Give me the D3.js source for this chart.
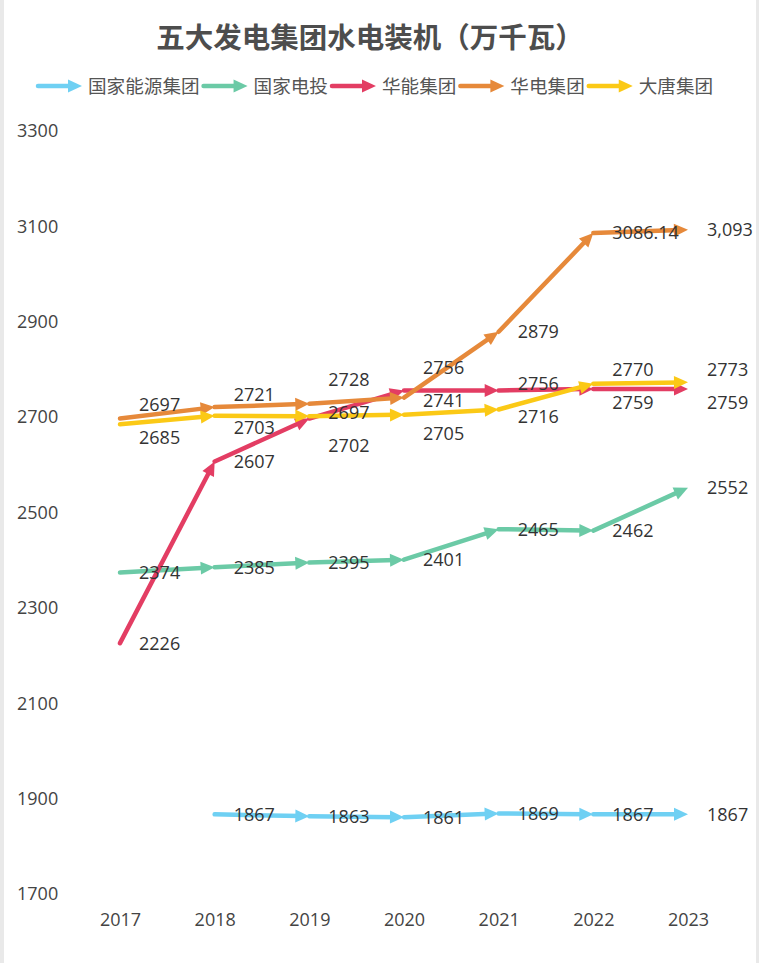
<!DOCTYPE html>
<html>
<head>
<meta charset="utf-8">
<script src="https://cdn.jsdelivr.net/npm/d3@7/dist/d3.min.js"></script>
<style>
  html, body { margin: 0; padding: 0; background: #fff; }
  svg { display: block; }
  text { font-family: "Open Sans", "Noto Sans CJK SC", sans-serif; }
</style>
</head>
<body>
<svg id="chart" width="759" height="963"></svg>
<script>
// ---------------- data ----------------
const years = ["2017", "2018", "2019", "2020", "2021", "2022", "2023"];
const yTicks = [1700, 1900, 2100, 2300, 2500, 2700, 2900, 3100, 3300];
const seriesNames = ["国家能源集团", "国家电投", "华能集团", "华电集团", "大唐集团"];
const chnEnergy = [null, 1867, 1863, 1861, 1869, 1867, 1867];
const spic      = [2374, 2385, 2395, 2401, 2465, 2462, 2552];
const huaneng   = [2226, 2607, 2697, 2756, 2756, 2759, 2759];
const huadian   = [2697, 2721, 2728, 2741, 2879, 3086.14, 3093];
const huadianLabels = ["2697", "2721", "2728", "2741", "2879", "3086.14", "3,093"];
const datang    = [2685, 2703, 2702, 2705, 2716, 2770, 2773];
const titleText = "五大发电集团水电装机（万千瓦）";

// ---------------- styles ----------------
const colors = ["#6fd0f3", "#6bcaa6", "#e33d63", "#e6893a", "#fbc916"];
const seriesValues = [chnEnergy, spic, huaneng, huadian, datang];
const seriesLabels = [
  chnEnergy.map(v => v == null ? "" : String(v)),
  spic.map(String), huaneng.map(String), huadianLabels, datang.map(String)
];

const svg = d3.select("#chart");
const W = 759, H = 963;
svg.append("rect").attr("width", W).attr("height", H).attr("fill", "#fff");
svg.append("rect").attr("x", 0).attr("y", 0).attr("width", 4).attr("height", H).attr("fill", "#e9e9e9");
svg.append("rect").attr("x", W - 3).attr("y", 0).attr("width", 3).attr("height", H).attr("fill", "#e9e9e9");

const x = d3.scalePoint().domain(years).range([120, 688]);
const y = d3.scaleLinear().domain([1700, 3300]).range([894, 131]);

// title
svg.append("text")
  .attr("x", 370).attr("y", 48)
  .attr("text-anchor", "middle")
  .attr("font-family", '"Noto Sans CJK SC", sans-serif')
  .attr("font-weight", "bold")
  .attr("font-size", 28.5)
  .attr("fill", "#4d4d4d")
  .text(titleText);

// arrow drawing helper
const AL = 14, AW = 13;
function arrowSeg(g, x0, y0, x1, y1, color, lw) {
  const dx = x1 - x0, dy = y1 - y0, len = Math.hypot(dx, dy);
  const ux = dx / len, uy = dy / len;
  const bx = x1 - ux * AL, by = y1 - uy * AL;
  g.append("line")
    .attr("x1", x0).attr("y1", y0)
    .attr("x2", x1 - ux * AL * 0.6).attr("y2", y1 - uy * AL * 0.6)
    .attr("stroke", color).attr("stroke-width", lw).attr("stroke-linecap", "round");
  const px = -uy, py = ux;
  g.append("path")
    .attr("d", `M${x1},${y1}L${bx + px * AW / 2},${by + py * AW / 2}L${bx - px * AW / 2},${by - py * AW / 2}Z`)
    .attr("fill", color);
}

// legend
const legend = svg.append("g");
let lx = 38;
const ly = 86;
seriesNames.forEach((name, i) => {
  const g = legend.append("g");
  arrowSeg(g, lx, ly, lx + 44, ly, colors[i], 4.5);
  const t = g.append("text")
    .attr("x", lx + 50).attr("y", ly)
    .attr("dy", "0.36em")
    .attr("font-family", '"Noto Sans CJK SC", sans-serif')
    .attr("font-size", 18.6)
    .attr("fill", "#555")
    .text(name);
  lx += 50 + t.node().getComputedTextLength() + 4;
});

// y axis labels (no lines)
const yAxis = d3.axisLeft(y).tickValues(yTicks).tickFormat(d3.format("d")).tickSize(0).tickPadding(0);
const yg = svg.append("g").attr("transform", "translate(17,0)").call(yAxis);
yg.select(".domain").remove();
yg.selectAll("text")
  .attr("text-anchor", "start").attr("x", 0)
  .attr("font-size", 18).attr("fill", "#444")
  .attr("font-family", '"Open Sans", sans-serif');

// x axis labels
const xAxis = d3.axisBottom(x).tickSize(0).tickPadding(0);
const xg = svg.append("g").attr("transform", "translate(0,913)").call(xAxis);
xg.select(".domain").remove();
xg.selectAll("text")
  .attr("font-size", 18).attr("fill", "#444")
  .attr("font-family", '"Open Sans", sans-serif');

// lines
const linesG = svg.append("g");
seriesValues.forEach((vals, si) => {
  const g = linesG.append("g");
  for (let i = 1; i < vals.length; i++) {
    if (vals[i - 1] == null || vals[i] == null) continue;
    arrowSeg(g, x(years[i - 1]), y(vals[i - 1]), x(years[i]), y(vals[i]), colors[si], 4.5);
  }
});

// labels with simple vertical dodge per category
const GAP = 33;
const labelsG = svg.append("g");
years.forEach((yr, ci) => {
  const items = [];
  seriesValues.forEach((vals, si) => {
    if (vals[ci] == null) return;
    items.push({ si, py: y(vals[ci]), text: seriesLabels[si][ci] });
  });
  items.sort((a, b) => (Math.abs(a.py - b.py) < 3 ? a.si - b.si : a.py - b.py));
  let groups = [];
  items.forEach(it => {
    groups.push({ items: [it] });
    const center = gr => d3.mean(gr.items, d => d.py);
    const top = gr => center(gr) - (gr.items.length - 1) * GAP / 2;
    const bot = gr => center(gr) + (gr.items.length - 1) * GAP / 2;
    while (groups.length > 1) {
      const a = groups[groups.length - 2], b = groups[groups.length - 1];
      if (bot(a) + GAP > top(b)) {
        groups.splice(groups.length - 2, 2, { items: a.items.concat(b.items) });
      } else break;
    }
  });
  groups.forEach(gr => {
    const c = d3.mean(gr.items, d => d.py);
    gr.items.forEach((it, k) => {
      it.ly = c - (gr.items.length - 1) * GAP / 2 + k * GAP;
    });
  });
  items.forEach(it => {
    labelsG.append("text")
      .attr("x", x(yr) + 19).attr("y", it.ly)
      .attr("dy", "0.36em")
      .attr("font-size", 18).attr("fill", "#333")
      .attr("font-family", '"Open Sans", sans-serif')
      .text(it.text);
  });
});
</script>
</body>
</html>
